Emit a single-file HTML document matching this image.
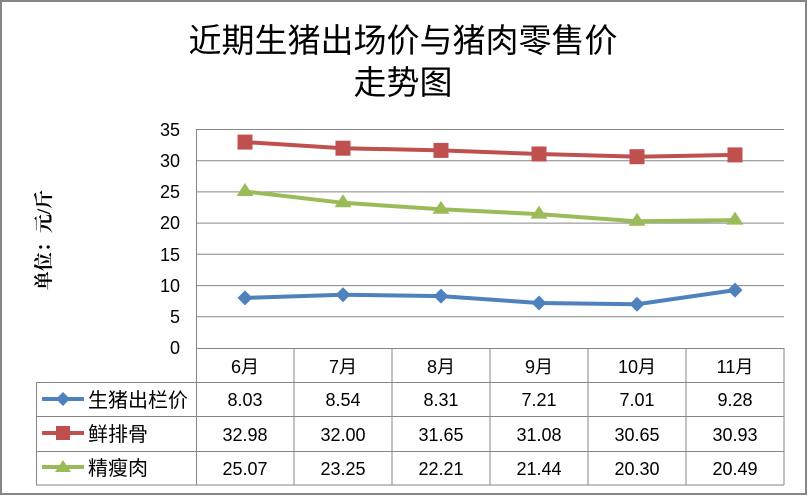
<!DOCTYPE html>
<html><head><meta charset="utf-8"><style>
body{margin:0;background:#fff}
svg{display:block}
text{font-family:"Liberation Sans","Noto Sans CJK SC",sans-serif;fill:#000}
</style></head><body>
<svg width="808" height="496" viewBox="0 0 808 496" xmlns="http://www.w3.org/2000/svg">
<rect x="1" y="1" width="805" height="493" fill="#fff" stroke="#868686" stroke-width="2"/>
<text x="403" y="52" font-size="33" text-anchor="middle">近期生猪出场价与猪肉零售价</text>
<text x="403" y="94" font-size="33" text-anchor="middle">走势图</text>
<text transform="translate(50,240) rotate(-90)" font-size="19" text-anchor="middle" font-weight="bold" style="font-family:'Liberation Serif','Noto Serif CJK SC',serif">单位：元/斤</text>
<g stroke="#868686" stroke-width="1">
<line x1="196" y1="129.5" x2="784" y2="129.5"/>
<line x1="196" y1="160.7" x2="784" y2="160.7"/>
<line x1="196" y1="191.9" x2="784" y2="191.9"/>
<line x1="196" y1="223.1" x2="784" y2="223.1"/>
<line x1="196" y1="254.3" x2="784" y2="254.3"/>
<line x1="196" y1="285.6" x2="784" y2="285.6"/>
<line x1="196" y1="316.8" x2="784" y2="316.8"/>
<line x1="196" y1="348.5" x2="784" y2="348.5"/>
<line x1="196.5" y1="129.5" x2="196.5" y2="485"/>
<line x1="784" y1="348" x2="784" y2="485"/>
<line x1="294" y1="348" x2="294" y2="485"/>
<line x1="392" y1="348" x2="392" y2="485"/>
<line x1="490" y1="348" x2="490" y2="485"/>
<line x1="588" y1="348" x2="588" y2="485"/>
<line x1="686" y1="348" x2="686" y2="485"/>
<line x1="36.5" y1="382" x2="36.5" y2="485"/>
<line x1="36" y1="382.5" x2="784" y2="382.5"/>
<line x1="36" y1="416.5" x2="784" y2="416.5"/>
<line x1="36" y1="451.5" x2="784" y2="451.5"/>
<line x1="36" y1="485" x2="784" y2="485"/>
</g>
<g font-size="18" text-anchor="end">
<text x="180" y="136">35</text><text x="180" y="167">30</text><text x="180" y="198">25</text><text x="180" y="229">20</text><text x="180" y="261">15</text><text x="180" y="292">10</text><text x="180" y="323">5</text><text x="180" y="354">0</text>
</g>
<g font-size="18" text-anchor="middle">
<text x="245" y="373">6月</text><text x="343" y="373">7月</text><text x="441" y="373">8月</text><text x="539" y="373">9月</text><text x="637" y="373">10月</text><text x="735" y="373">11月</text>
<text x="245" y="406">8.03</text><text x="343" y="406">8.54</text><text x="441" y="406">8.31</text><text x="539" y="406">7.21</text><text x="637" y="406">7.01</text><text x="735" y="406">9.28</text>
<text x="245" y="441">32.98</text><text x="343" y="441">32.00</text><text x="441" y="441">31.65</text><text x="539" y="441">31.08</text><text x="637" y="441">30.65</text><text x="735" y="441">30.93</text>
<text x="245" y="475">25.07</text><text x="343" y="475">23.25</text><text x="441" y="475">22.21</text><text x="539" y="475">21.44</text><text x="637" y="475">20.30</text><text x="735" y="475">20.49</text>
</g>
<g font-size="20">
<text x="88" y="407">生猪出栏价</text><text x="88" y="441">鲜排骨</text><text x="88" y="475">精瘦肉</text>
</g>
<line x1="42" y1="399" x2="84" y2="399" stroke="#4f81bd" stroke-width="4"/>
<path d="M63 392 L70 399 L63 406 L56 399Z" fill="#4f81bd"/>
<line x1="42" y1="433" x2="84" y2="433" stroke="#c0504d" stroke-width="4"/>
<rect x="56" y="426" width="14" height="14" fill="#c0504d"/>
<line x1="42" y1="467" x2="84" y2="467" stroke="#9bbb59" stroke-width="4"/>
<path d="M63 460 L71 472 L55 472Z" fill="#9bbb59"/>
<polyline fill="none" stroke="#4f81bd" stroke-width="4" points="245,297.9 343,294.7 441,296.1 539,303 637,304.2 735,290.1"/>
<g fill="#4f81bd">
<path d="M245 290.4l7.5 7.5-7.5 7.5-7.5-7.5z"/><path d="M343 287.2l7.5 7.5-7.5 7.5-7.5-7.5z"/><path d="M441 288.6l7.5 7.5-7.5 7.5-7.5-7.5z"/><path d="M539 295.5l7.5 7.5-7.5 7.5-7.5-7.5z"/><path d="M637 296.7l7.5 7.5-7.5 7.5-7.5-7.5z"/><path d="M735 282.6l7.5 7.5-7.5 7.5-7.5-7.5z"/>
</g>
<polyline fill="none" stroke="#c0504d" stroke-width="4" points="245,142.1 343,148.2 441,150.4 539,154 637,156.7 735,154.9"/>
<g fill="#c0504d">
<rect x="237.5" y="134.6" width="15" height="15"/><rect x="335.5" y="140.7" width="15" height="15"/><rect x="433.5" y="142.9" width="15" height="15"/><rect x="531.5" y="146.5" width="15" height="15"/><rect x="629.5" y="149.2" width="15" height="15"/><rect x="727.5" y="147.4" width="15" height="15"/>
</g>
<polyline fill="none" stroke="#9bbb59" stroke-width="4" points="245,191.5 343,202.8 441,209.3 539,214.1 637,221.3 735,220.1"/>
<g fill="#9bbb59">
<path d="M245 183l8.5 13h-17z"/><path d="M343 194.3l8.5 13h-17z"/><path d="M441 200.8l8.5 13h-17z"/><path d="M539 205.6l8.5 13h-17z"/><path d="M637 212.8l8.5 13h-17z"/><path d="M735 211.6l8.5 13h-17z"/>
</g>
</svg>
</body></html>
